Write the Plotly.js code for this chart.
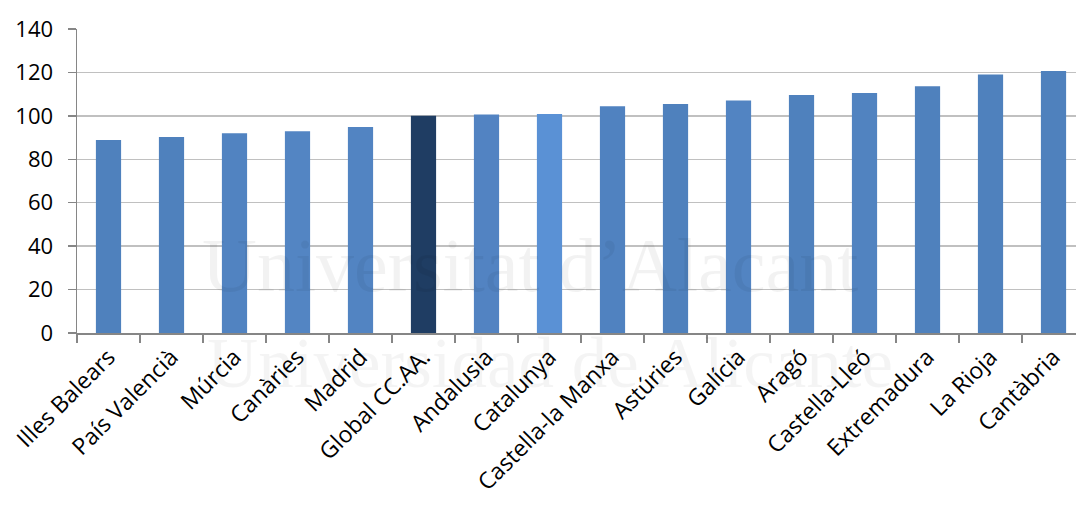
<!DOCTYPE html>
<html>
<head>
<meta charset="utf-8">
<script src="https://cdn.plot.ly/plotly-3.0.1.min.js"></script>
<style>html,body{margin:0;padding:0;background:#fff;}#chart{width:1076px;height:506px;}</style>
</head>
<body>
<div id="chart"></div>
<script>
const categories = ["Illes Balears","País Valencià","Múrcia","Canàries","Madrid","Global CC.AA.","Andalusia","Catalunya","Castella-la Manxa","Astúries","Galícia","Aragó","Castella-Lleó","Extremadura","La Rioja","Cantàbria"];
const values = [88.9, 90.3, 92.0, 92.9, 94.9, 100.1, 100.6, 100.9, 104.4, 105.5, 107.1, 109.6, 110.5, 113.6, 119.0, 120.7];
const barColors = ["#4F81BD","#4F81BD","#5183C1","#5385C3","#5284C2","#1F3D63","#5283C2","#5A91D5","#5082C0","#4F81BD","#5284C2","#4F81BD","#5183C0","#4F81BD","#4F81BD","#4F81BD"];
const yTicks = [0, 20, 40, 60, 80, 100, 120, 140];
const watermark = ["Universitat d’Alacant", "Universidad de Alicante"];

const xfont = {family: "Open Sans, sans-serif", size: 23, color: "#000"};
const yfont = {family: "Open Sans, sans-serif", size: 22, color: "#000"};

Plotly.newPlot("chart", [{
  type: "bar",
  x: categories,
  y: values,
  marker: {color: barColors, line: {width: 0}},
  hoverinfo: "x+y"
}], {
  width: 1076, height: 506,
  margin: {l: 77, r: 0, t: 29, b: 173},
  paper_bgcolor: "#fff", plot_bgcolor: "#fff",
  showlegend: false,
  bargap: 0.6,
  font: xfont,
  xaxis: {
    type: "category",
    range: [-0.5, 15.357],
    tickangle: -45,
    tickson: "boundaries",
    ticks: "outside", ticklen: 8, tickcolor: "#868686", tickwidth: 1.5,
    showline: true, linecolor: "#868686", linewidth: 1.5,
    showgrid: false,
    automargin: false,
    tickfont: xfont
  },
  yaxis: {
    range: [0, 140],
    tickvals: yTicks,
    ticks: "outside", ticklen: 8, tickcolor: "#868686", tickwidth: 1.5,
    ticklabelstandoff: 10,
    showline: true, linecolor: "#868686", linewidth: 1.5,
    showgrid: true, gridcolor: "#C0C0C0", gridwidth: 1.3,
    zeroline: false,
    automargin: false,
    tickfont: yfont
  },
  annotations: [
    {text: watermark[0], xref: "paper", yref: "paper", x: 0.453, y: 0.079, xanchor: "center", yanchor: "bottom", showarrow: false,
     font: {family: "Liberation Serif, serif", size: 76, color: "rgba(0,0,0,0.05)"}},
    {text: watermark[1], xref: "paper", yref: "paper", x: 0.473, y: -0.234, xanchor: "center", yanchor: "bottom", showarrow: false,
     font: {family: "Liberation Serif, serif", size: 71, color: "rgba(0,0,0,0.045)"}}
  ]
}, {displayModeBar: false, staticPlot: true});
</script>
</body>
</html>
